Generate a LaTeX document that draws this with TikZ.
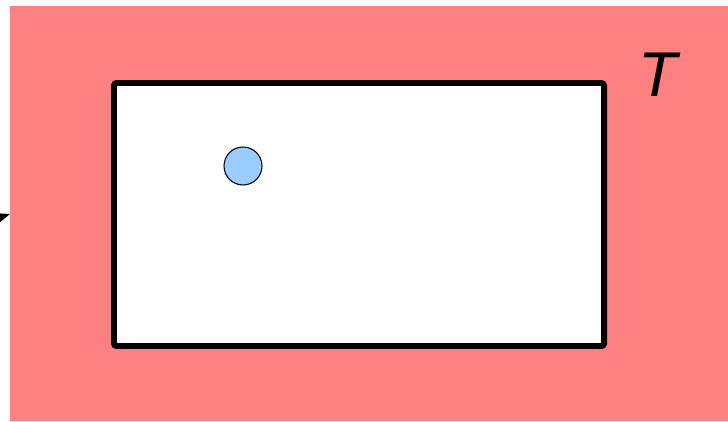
\documentclass[tikz,border=0pt]{standalone}
\usepackage{fontspec}
\setmainfont{Liberation Sans}
\usetikzlibrary{arrows.meta}
\definecolor{hotred}{HTML}{FF8080}
\definecolor{ballblue}{HTML}{99CCFF}
\begin{document}
\begin{tikzpicture}[>={Stealth[length=9pt,width=7pt]}]
    \useasboundingbox (0,0) rectangle (14.56,8.42);
    \coordinate (S) at (-1.6,3.55);
    \coordinate (P) at (0.2,4.14);

    \fill[hotred] (0.2,0) rectangle (14.56,8.3);
    \draw[fill=white, line width=3.4pt, rounded corners=1.5pt] (2.28,1.5) rectangle (12.08,6.76);

    \draw[fill=ballblue, line width=0.6pt] (4.86,5.1) circle (0.38);
    \node[font=\itshape\fontsize{36}{40}\selectfont] (T) at (13.16,6.92) {T};

    \draw[->, thick] (S) -- (P);
\end{tikzpicture}
\end{document}
